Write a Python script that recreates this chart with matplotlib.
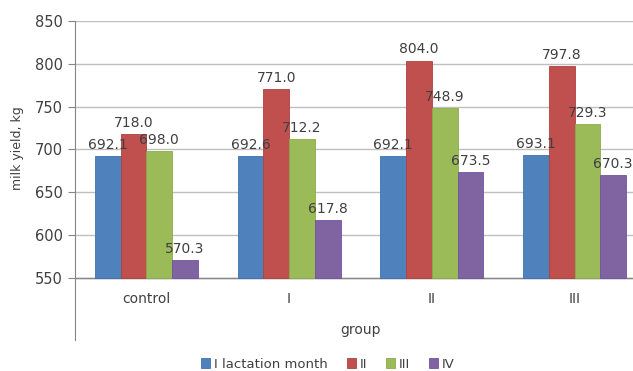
import numpy as np
import matplotlib
matplotlib.use("Agg")
import matplotlib.pyplot as plt

# data
groups = ["control", "I", "II", "III"]
series_names = ["I lactation month", "II", "III", "IV"]
month_1 = [692.1, 692.6, 692.1, 693.1]
month_2 = [718.0, 771.0, 804.0, 797.8]
month_3 = [698.0, 712.2, 748.9, 729.3]
month_4 = [570.3, 617.8, 673.5, 670.3]
yticks = [550, 600, 650, 700, 750, 800, 850]

colors = ["#4F81BD", "#C0504D", "#9BBB59", "#8064A2"]
edges = ["#3F71AD", "#B0403D", "#8BAB49", "#7054A2"]
text_col = "#404040"
grid_col = "#BFBFBF"

plt.rcParams["font.family"] = "DejaVu Sans"

W, H = 633, 371
fig = plt.figure(figsize=(W / 100, H / 100), dpi=100)
ax = fig.add_axes([75 / W, 1 - 340 / H, 571 / W, (340 - 20.5) / H])

x = np.arange(len(groups))
width = 0.18
all_series = [month_1, month_2, month_3, month_4]
for i, vals in enumerate(all_series):
    pos = x + (i - 1.5) * width
    ax.bar(pos, np.array(vals) - 550, width, bottom=550, color=colors[i],
           edgecolor=edges[i], linewidth=0.6, label=series_names[i], zorder=3)
    for p, v in zip(pos, vals):
        ax.annotate(f"{v:.1f}", (p, v), xytext=(0, 3), textcoords="offset points",
                    ha="center", va="bottom", fontsize=10, color=text_col, zorder=4)

ax.set_xlim(-0.5, 3.5)
ax.set_ylim(477, 851)
ax.set_yticks(yticks)
ax.set_yticklabels([str(t) for t in yticks], fontsize=10.5, color=text_col)
ax.yaxis.grid(True, color=grid_col, linewidth=1, zorder=0)
ax.tick_params(axis="y", length=5, color="#868686", pad=4)
ax.set_xticks([])

for s in ["top", "right", "bottom"]:
    ax.spines[s].set_visible(False)
ax.spines["left"].set_color("#868686")
ax.spines["left"].set_bounds(477, 850)
ax.axhline(550, color="#868686", linewidth=1, zorder=2)

for xi, g in zip(x, groups):
    ax.text(xi, 525, g, ha="center", va="center", fontsize=10, color=text_col)
ax.text(1.5, 489, "group", ha="center", va="center", fontsize=10, color=text_col)

fig.text(18 / W, 1 - 148 / H, "milk yield, kg", rotation=90, ha="center", va="center",
         fontsize=9, color=text_col)

leg = fig.legend(loc="center", bbox_to_anchor=(328 / W, 1 - 364 / H), ncol=4, frameon=False,
                 fontsize=9.5, handlelength=0.7, handleheight=0.7, handletextpad=0.3,
                 columnspacing=1.4)
for t in leg.get_texts():
    t.set_color(text_col)

fig.savefig("out.png", dpi=100)
